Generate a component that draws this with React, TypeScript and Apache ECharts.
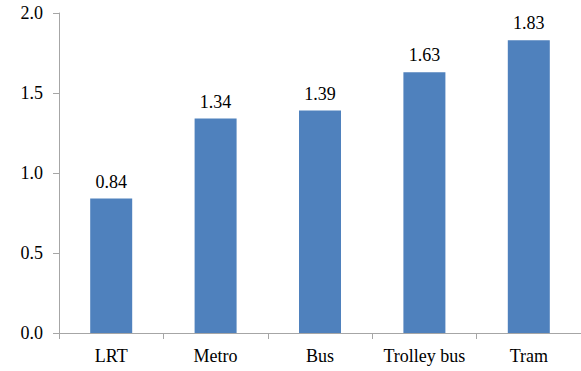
import React, { useEffect, useRef } from "react";
import * as echarts from "echarts";

const categories = ["LRT", "Metro", "Bus", "Trolley bus", "Tram"];
const values = [0.84, 1.34, 1.39, 1.63, 1.83];
const yMin = 0;
const yMax = 2;
const yInterval = 0.5;

export default function App() {
  const ref = useRef<HTMLDivElement>(null);
  useEffect(() => {
    if (!ref.current) return;
    const chart = echarts.init(ref.current, undefined, { renderer: "svg" });
    const font = "Liberation Serif, DejaVu Serif Condensed, DejaVu Serif";
    chart.setOption({
      animation: false,
      textStyle: { fontFamily: font },
      grid: { left: 59, top: 13, width: 525, height: 320, containLabel: false },
      xAxis: {
        type: "category",
        data: categories,
        axisLine: { lineStyle: { color: "#a6a6a6", width: 1 } },
        axisTick: { show: true, length: 6, lineStyle: { color: "#a6a6a6" } },
        axisLabel: { color: "#000", fontFamily: font, fontSize: 18, margin: 14, interval: 0 },
      },
      yAxis: {
        type: "value",
        min: yMin,
        max: yMax,
        interval: yInterval,
        axisLine: { show: true, lineStyle: { color: "#a6a6a6", width: 1 } },
        axisTick: { show: true, length: 6, lineStyle: { color: "#a6a6a6" } },
        splitLine: { show: false },
        axisLabel: {
          color: "#000",
          fontFamily: font,
          fontSize: 18,
          margin: 16,
          formatter: (v: number) => v.toFixed(1),
        },
      },
      series: [
        {
          type: "bar",
          data: values,
          barWidth: 42,
          itemStyle: { color: "#4f81bd" },
          label: {
            show: true,
            position: "top",
            distance: 8,
            color: "#000",
            fontFamily: font,
            fontSize: 18,
            formatter: (p: any) => p.value.toFixed(2),
          },
        },
      ],
    });
    return () => chart.dispose();
  }, []);
  return (
    <div
      ref={ref}
      style={{ position: "fixed", left: 0, top: 0, width: 581, height: 371, background: "#fff" }}
    />
  );
}
